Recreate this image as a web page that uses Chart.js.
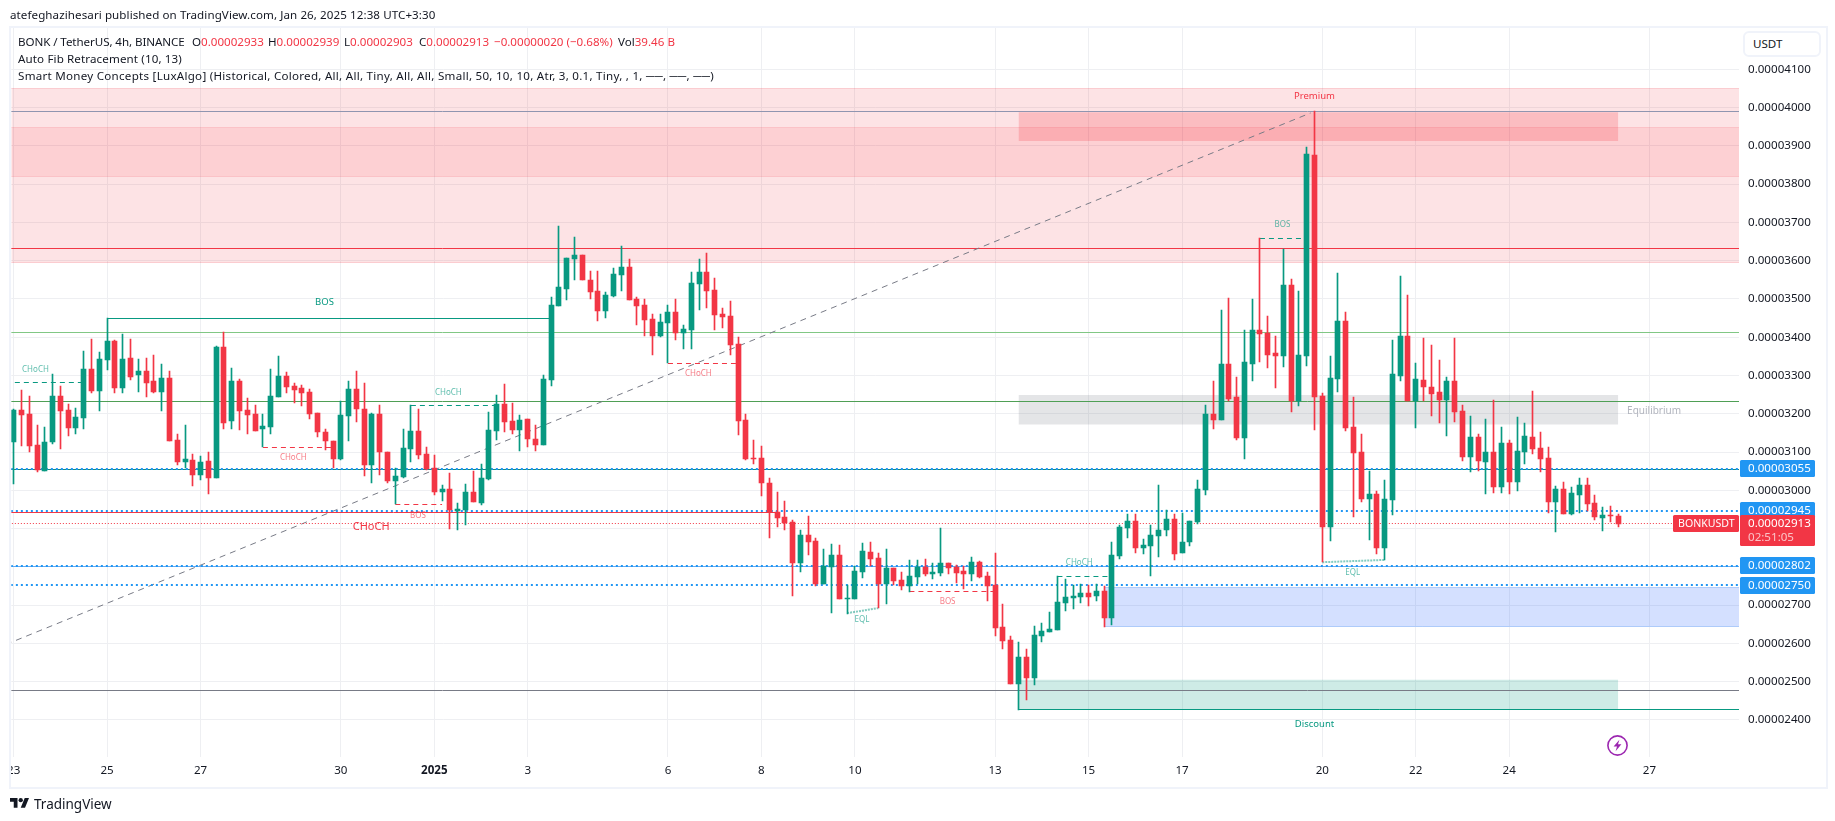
<!DOCTYPE html>
<html>
<head>
<meta charset="utf-8">
<title>BONKUSDT</title>
<script src="https://cdn.jsdelivr.net/npm/chart.js@4/dist/chart.umd.js"></script>
<style>
    html, body { margin: 0; padding: 0; background: #fff; }
    body { width: 1835px; height: 821px; overflow: hidden; position: relative; font-family: "Noto Sans", sans-serif; color: #131722; }
    canvas { position: absolute; left: 0; top: 0; }
    .t { position: absolute; white-space: nowrap; font-size: 11.6px; line-height: 16px; }
    .r { color: #f23645; }
    #mask { position: absolute; left: 0; top: 0; width: 9px; height: 821px; background: #fff; }
    #frame { position: absolute; left: 9px; top: 26px; width: 1815px; height: 759px; border: 2px solid #f0f3fa; }
    #usdt { position: absolute; left: 1743px; top: 31px; width: 74px; height: 22px; border: 2px solid #f0f3fa; border-radius: 6px; background: #fff; font-size: 11.6px; line-height: 22px; text-indent: 8px; }
</style>
</head>
<body>
<canvas id="chart" width="1835" height="821"></canvas>
<div id="mask"></div>
<div id="frame"></div>
<div id="usdt">USDT</div>

<div class="t" style="left:10px;top:7px;letter-spacing:.08px">atefeghazihesari published on TradingView.com, Jan 26, 2025 12:38 UTC+3:30</div>
<div class="t" style="left:18px;top:34px;letter-spacing:-.08px">BONK / TetherUS, 4h, BINANCE</div>
<div class="t" style="left:192px;top:34px">O<span class="r">0.00002933</span></div>
<div class="t" style="left:268px;top:34px">H<span class="r">0.00002939</span></div>
<div class="t" style="left:344px;top:34px">L<span class="r">0.00002903</span></div>
<div class="t" style="left:419px;top:34px">C<span class="r">0.00002913</span></div>
<div class="t r" style="left:494px;top:34px">−0.00000020 (−0.68%)</div>
<div class="t" style="left:618px;top:34px">Vol<span class="r">39.46 B</span></div>
<div class="t" style="left:18px;top:51px;letter-spacing:.12px">Auto Fib Retracement (10, 13)</div>
<div class="t" style="left:18px;top:68px;letter-spacing:.26px">Smart Money Concepts [LuxAlgo] (Historical, Colored, All, All, Tiny, All, All, Small, 50, 10, 10, Atr, 3, 0.1, Tiny, , 1, ──, ──, ──)</div>

<svg style="position:absolute;left:1606px;top:734px" width="23" height="23" viewBox="0 0 23 23">
    <circle cx="11.5" cy="11.5" r="9.6" fill="#fff" stroke="#9c27b0" stroke-width="1.6"/>
    <path d="M13.4 5.8 L7.6 12.6 H11 L9.6 17.2 L15.4 10.2 H12 Z" fill="#9c27b0"/>
</svg>

<svg style="position:absolute;left:10px;top:798px" width="19.3" height="9.7" viewBox="0 4 36 18">
    <path fill="#131722" d="M14 22H7V11H0V4h14v18zM28 22h-8l7.5-18h8L28 22z"/><circle fill="#131722" cx="20" cy="8" r="4"/>
</svg>
<div class="t" style="left:34px;top:796px;font-size:13.5px">TradingView</div>

<script>
// prices are in units of 0.00000001 USDT, x is the 4h candle number (0 = Dec 23)
const opens = [
    3127,3210,3200,3119,3051,3125,3247,3210,3164,3190,
    3317,3260,3341,3390,3268,3346,3300,3312,3286,3258,
    3294,3132,3075,3079,3041,3077,3031,3375,3180,3286,
    3210,3200,3159,3166,3245,3299,3273,3267,3257,3202,
    3153,3129,3083,3195,3265,3213,3067,3200,3100,3023,
    3035,3109,3155,3095,3058,2996,3004,2947,2949,2996,
    2967,3030,3155,3226,3181,3158,3186,3134,3119,3288,
    3482,3526,3604,3615,3550,3521,3469,3508,3563,3584,
    3500,3484,3448,3403,3437,3466,3411,3419,3539,3570,
    3523,3461,3456,3382,3184,3085,3085,3018,2943,2930,
    2917,2810,2883,2868,2755,2800,2831,2716,2716,2787,
    2839,2823,2755,2797,2766,2750,2774,2800,2782,2784,
    2810,2800,2789,2782,2813,2776,2753,2643,2609,2494,
    2565,2510,2620,2630,2635,2706,2719,2721,2732,2724,
    2737,2667,2829,2902,2920,2850,2855,2881,2896,2925,
    2836,2865,2917,3001,3200,3184,3330,3244,3137,3330,
    3419,3411,3359,3351,3536,3234,3351,3876,3247,2904,
    3291,3442,3166,3100,2977,2991,2849,2975,3299,3403,
    3233,3288,3270,3257,3236,3286,3207,3087,3139,3074,
    3100,3009,3124,3022,3100,3139,3111,3085,2970,3004,
    2938,2988,3014,2967,2928,2935,2933
];
const highs = [
    3213,3262,3247,3171,3166,3304,3273,3226,3215,3364,
    3395,3361,3449,3393,3409,3395,3343,3346,3354,3330,
    3312,3147,3171,3096,3090,3100,3377,3414,3320,3291,
    3241,3223,3200,3317,3351,3309,3280,3275,3265,3202,
    3159,3129,3233,3286,3312,3280,3202,3223,3100,3058,
    3160,3222,3213,3113,3092,3014,3045,2967,3017,3051,
    3069,3205,3249,3278,3228,3197,3186,3171,3301,3505,
    3691,3607,3662,3615,3573,3573,3518,3581,3638,3604,
    3505,3500,3461,3461,3484,3500,3432,3570,3604,3620,
    3555,3476,3495,3401,3200,3132,3116,3032,2995,2972,
    2923,2896,2933,2876,2847,2860,2857,2753,2802,2862,
    2865,2836,2847,2797,2787,2818,2818,2821,2810,2902,
    2810,2805,2802,2826,2815,2787,2836,2703,2620,2604,
    2586,2646,2654,2682,2776,2768,2753,2755,2753,2755,
    2750,2865,2910,2938,2938,2873,2910,3014,2949,2938,
    2941,2920,3027,3223,3286,3471,3503,3296,3419,3500,
    3658,3455,3403,3630,3552,3521,3897,3991,3254,3351,
    3568,3466,3244,3147,3051,2998,3027,3393,3560,3510,
    3333,3398,3380,3341,3296,3398,3223,3194,3147,3186,
    3236,3166,3132,3192,3176,3260,3153,3113,3011,3022,
    3009,3032,3032,2988,2957,2959,2939
];
const lows = [
    3017,3117,3101,3049,3051,3122,3109,3143,3146,3161,
    3253,3208,3313,3255,3255,3287,3258,3245,3255,3208,
    3130,3067,3057,3012,3028,2991,3031,3161,3159,3158,
    3148,3156,3114,3146,3245,3253,3227,3219,3187,3138,
    3104,3059,3079,3130,3179,3038,3018,3040,3020,2964,
    3032,3075,3083,3053,2988,2973,2900,2895,2910,2970,
    2962,3027,3132,3153,3147,3103,3114,3103,3119,3273,
    3482,3497,3550,3550,3500,3442,3450,3505,3521,3497,
    3432,3403,3354,3401,3332,3393,3369,3369,3471,3476,
    3419,3424,3354,3145,3079,3069,2984,2876,2903,2895,
    2724,2787,2831,2750,2755,2680,2716,2677,2716,2771,
    2802,2692,2703,2753,2740,2735,2755,2776,2768,2776,
    2782,2758,2742,2763,2771,2711,2620,2586,2494,2426,
    2452,2492,2604,2630,2635,2685,2690,2706,2698,2711,
    2643,2648,2821,2876,2836,2834,2776,2826,2881,2818,
    2836,2855,2912,2988,3160,3184,3233,3132,3082,3286,
    3335,3320,3267,3322,3205,3220,3325,3158,2812,2868,
    3257,3155,2930,2970,2870,2834,2818,2936,3286,3233,
    3163,3233,3194,3176,3142,3179,3077,3048,3051,2991,
    2993,2993,2991,2998,3069,3095,3048,2941,2891,2938,
    2936,2941,2946,2923,2894,2917,2903
];
const closes = [
    3210,3197,3117,3053,3126,3247,3207,3164,3192,3317,
    3260,3343,3390,3268,3343,3297,3312,3281,3258,3294,
    3130,3075,3082,3041,3074,3031,3375,3177,3286,3206,
    3198,3156,3168,3247,3299,3271,3262,3255,3200,3151,
    3130,3083,3197,3265,3213,3067,3200,3099,3024,3038,
    3111,3155,3093,3055,2996,3004,2949,2951,2996,2970,
    3032,3158,3226,3179,3158,3184,3135,3119,3291,3484,
    3531,3607,3615,3550,3518,3469,3510,3565,3584,3497,
    3482,3445,3403,3440,3466,3411,3422,3542,3570,3521,
    3458,3453,3380,3181,3082,3082,3018,2943,2928,2915,
    2810,2883,2865,2755,2802,2831,2716,2719,2789,2842,
    2821,2755,2797,2763,2750,2776,2800,2782,2787,2810,
    2797,2784,2782,2813,2774,2750,2640,2607,2494,2565,
    2510,2622,2633,2638,2708,2721,2724,2732,2721,2737,
    2667,2831,2904,2920,2850,2857,2883,2896,2925,2834,
    2865,2920,3004,3200,3184,3330,3239,3137,3335,3419,
    3408,3354,3351,3536,3234,3354,3879,3244,2904,3294,
    3442,3163,3098,2977,2991,2849,2977,3304,3403,3233,
    3291,3270,3252,3236,3286,3205,3087,3139,3077,3100,
    3009,3124,3022,3103,3142,3108,3082,2970,3004,2938,
    2993,3014,2964,2930,2936,2933,2913
];

const xTickValues = [0, 12, 24, 42, 54, 66, 84, 96, 108, 126, 138, 150, 168, 180, 192, 210];
const xTickLabels = ['23', '25', '27', '30', '2025', '3', '6', '8', '10', '13', '15', '17', '20', '22', '24', '27'];
const priceTicks = [2400, 2500, 2600, 2700, 2800, 2900, 3000, 3100, 3200, 3300, 3400, 3500, 3600, 3700, 3800, 3900, 4000, 4100];

const alertLevels = [3055, 2945, 2802, 2750];
const lastPrice = 2913;
const countdown = '02:51:05';
const symbol = 'BONKUSDT';

// [from candle, to candle, top, bottom]
const premiumBand = [-1, 222, 4050, 3595];
const premiumInner = [-1, 222, 3948, 3820];
const premiumBox = [129, 206, 3988, 3913];
const equilibriumBox = [129, 206, 3249, 3172];
const discountBox = [129, 206, 2505, 2426];
const demandBox = [140, 222, 2747, 2644];

// [from candle, to candle, price]
const fibLevels = [3990, 3632, 3413, 3233, 3053, 2478];
const bosSolid = [12, 69, 3449];
const trailingLow = [129, 222, 2426];
const supportRed = [-1, 98, 2943];
const dashedGreen = [[-1, 9, 3282], [51, 62, 3222], [160, 166, 3658], [134, 141, 2775]];
const dashedRed = [[32, 41, 3112], [49, 55, 2964], [84, 93, 3332], [115, 126, 2736]];
const eqlLines = [[107, 2679, 111, 2692], [168, 2812, 176, 2818]];
const fibTrend = [[-1, 2597], [166.5, 3986]];

// [candle, price, text]
const smallGreenNotes = [[2.8, 3314, 'CHoCH'], [55.8, 3254, 'CHoCH'], [136.8, 2811, 'CHoCH'], [108.9, 2661, 'EQL'], [171.9, 2785, 'EQL'], [162.9, 3693, 'BOS']];
const smallRedNotes = [[35.9, 3085, 'CHoCH'], [51.9, 2933, 'BOS'], [87.9, 3304, 'CHoCH'], [119.9, 2708, 'BOS']];
const bigNotes = [[39.9, 3490, 'BOS', '#089981'], [45.9, 2904, 'CHoCH', '#f23645'], [167, 4030, 'Premium', '#f23645'], [167, 2388, 'Discount', '#089981'], [210.6, 3208, 'Equilibrium', '#b2b5be']];

const UP = '#089981';
const DOWN = '#f23645';
const GRID = '#eeeff2';
const FONT = '"Noto Sans", sans-serif';
const candleColors = closes.map((c, i) => c < opens[i] ? DOWN : UP);

function hline(x0, x1, price, color, width, dash, order) {
    return {
        type: 'line', data: [{ x: x0, y: price }, { x: x1, y: price }],
        borderColor: color, borderWidth: width, borderDash: dash || [],
        pointRadius: 0, fill: false, order: order, snapY: true
    };
}

function zone(box, color, order) {
    return {
        type: 'line', data: [{ x: box[0], y: box[2] }, { x: box[1], y: box[2] }],
        borderWidth: 0, borderColor: 'transparent', backgroundColor: color,
        pointRadius: 0, fill: { value: box[3] }, order: order
    };
}

function zoneEdges(box, color, order) {
    return [hline(box[0], box[1], box[2], color, 1, [], order), hline(box[0], box[1], box[3], color, 1, [], order)];
}

const datasets = [
    // candles, wick below body
    {
        type: 'bar', grouped: false, order: 1, barThickness: 5, minBarLength: 1,
        data: opens.map((o, i) => ({ x: i, y: [o, closes[i]] })),
        backgroundColor: candleColors
    },
    {
        type: 'bar', grouped: false, order: 2, barThickness: 1,
        data: lows.map((l, i) => ({ x: i, y: [l, highs[i]] })),
        backgroundColor: candleColors
    },

    // zones
    zone(premiumBand, 'rgba(242,54,69,.14)', 30),
    zone(premiumInner, 'rgba(242,54,69,.115)', 29),
    zone(premiumBox, 'rgba(242,54,69,.225)', 28),
    zone(equilibriumBox, 'rgba(120,123,134,.2)', 28),
    zone(discountBox, 'rgba(8,153,129,.2)', 28),
    zone(demandBox, 'rgba(41,98,255,.2)', 28),
    ...zoneEdges(premiumBand, 'rgba(242,54,69,.2)', 27),
    ...zoneEdges(premiumInner, 'rgba(242,54,69,.14)', 27),
    ...zoneEdges(demandBox, '#aecbfa', 27),

    // fib levels
    hline(-1, 222, fibLevels[0], '#8f95b0', 1, [], 20),
    hline(-1, 222, fibLevels[1], '#f23645', 1, [], 20),
    hline(-1, 222, fibLevels[2], '#81c784', 1, [], 20),
    hline(-1, 222, fibLevels[3], '#4f9f55', 1, [], 20),
    hline(-1, 222, fibLevels[4], '#0e8a82', 1, [], 20),
    hline(-1, 222, fibLevels[5], '#787b86', 1, [], 20),
    hline(-1, 222, 2800, '#64a9f2', 1, [], 20),
    {
        type: 'line', data: fibTrend.map(p => ({ x: p[0], y: p[1] })),
        borderColor: '#787b86', borderWidth: 1, borderDash: [6, 5], pointRadius: 0, fill: false, order: 19
    },

    // structure
    hline(bosSolid[0], bosSolid[1], bosSolid[2], UP, 1, [], 18),
    hline(trailingLow[0], trailingLow[1], trailingLow[2], UP, 1, [], 18),
    hline(supportRed[0], supportRed[1], supportRed[2], DOWN, 1, [], 18),
    ...dashedGreen.map(d => hline(d[0], d[1], d[2], UP, 1, [5, 4], 18)),
    ...dashedRed.map(d => hline(d[0], d[1], d[2], DOWN, 1, [5, 4], 18)),
    ...eqlLines.map(d => ({
        type: 'line', data: [{ x: d[0], y: d[1] }, { x: d[2], y: d[3] }],
        borderColor: 'rgba(8,153,129,.5)', borderWidth: 2, borderDash: [2, 1], pointRadius: 0, fill: false, order: 18
    })),

    // alerts and last price
    ...alertLevels.map(p => hline(-1, 222, p, '#2196f3', 2, [2, 3], 15)),
    hline(-1, 222, lastPrice, DOWN, 1, [1, 2], 15)
];

// snap bars and flat lines to whole pixels, the original is crisp
const snapPlugin = {
    id: 'snap',
    afterDatasetsUpdate(chart) {
        chart.getSortedVisibleDatasetMetas().forEach(meta => {
            const ds = chart.data.datasets[meta.index];
            if (meta.type === 'bar') {
                meta.data.forEach(el => {
                    el.x = Math.floor(el.x) + 0.5;
                    el.y = Math.round(el.y);
                    el.base = Math.round(el.base);
                    if (el.y === el.base) el.base = el.y + 1;
                });
            } else if (ds.snapY) {
                const half = ds.borderWidth % 2 ? 0.5 : 0;
                meta.data.forEach(el => { el.y = Math.floor(el.y) + half; });
            }
        });
    }
};

function note(ctx, chart, n, color, font) {
    ctx.fillStyle = color;
    ctx.font = font;
    ctx.textAlign = 'center';
    ctx.textBaseline = 'middle';
    ctx.fillText(n[2], chart.scales.x.getPixelForValue(n[0]), chart.scales.y.getPixelForValue(n[1]));
}

const notesPlugin = {
    id: 'notes',
    afterDatasetsDraw(chart) {
        const ctx = chart.ctx;
        ctx.save();
        smallGreenNotes.forEach(n => note(ctx, chart, n, 'rgba(8,153,129,.65)', '8px ' + FONT));
        smallRedNotes.forEach(n => note(ctx, chart, n, 'rgba(242,54,69,.65)', '8px ' + FONT));
        bigNotes.forEach(n => note(ctx, chart, n, n[3], (n[2] === 'Equilibrium' ? '10px ' : n[2] === 'CHoCH' ? '11px ' : '9.5px ') + FONT));
        ctx.restore();
    }
};

function badge(ctx, left, top, w, h, color) {
    ctx.fillStyle = color;
    ctx.beginPath();
    ctx.roundRect(left, top, w, h, 1.5);
    ctx.fill();
}

const badgesPlugin = {
    id: 'badges',
    afterDraw(chart) {
        const ctx = chart.ctx, y = chart.scales.y;
        ctx.save();
        ctx.font = '11.6px ' + FONT;
        ctx.textBaseline = 'middle';
        ctx.textAlign = 'left';
        alertLevels.forEach(p => {
            const py = Math.round(y.getPixelForValue(p));
            badge(ctx, 1740, py - 9, 75, 17, '#2196f3');
            ctx.fillStyle = '#fff';
            ctx.fillText((p / 1e8).toFixed(8), 1748, py);
        });
        const py = Math.round(y.getPixelForValue(lastPrice));
        badge(ctx, 1740, py - 9, 75, 31, DOWN);
        badge(ctx, 1673, py - 9, 66, 17, DOWN);
        ctx.fillStyle = '#fff';
        ctx.fillText((lastPrice / 1e8).toFixed(8), 1748, py);
        ctx.font = '10.6px ' + FONT;
        ctx.fillText(symbol, 1678, py);
        ctx.font = '11.6px ' + FONT;
        ctx.fillStyle = 'rgba(255,255,255,.7)';
        ctx.fillText(countdown, 1748, py + 14);
        ctx.restore();
    }
};

new Chart(document.getElementById('chart'), {
    type: 'bar',
    data: { datasets: datasets },
    plugins: [snapPlugin, notesPlugin, badgesPlugin],
    options: {
        responsive: false,
        animation: false,
        events: [],
        layout: { padding: { left: 11, top: 28, right: 9, bottom: 35 } },
        plugins: { legend: { display: false }, tooltip: { enabled: false } },
        scales: {
            x: {
                type: 'linear',
                offset: false,
                min: -0.295,
                max: 221.5,
                afterBuildTicks: scale => { scale.ticks = xTickValues.map(v => ({ value: v })); },
                afterFit: scale => { scale.height = 29; },
                grid: { color: GRID, offset: false, drawTicks: false },
                border: { display: false },
                ticks: {
                    autoSkip: false,
                    maxRotation: 0,
                    padding: 7,
                    color: '#131722',
                    font: ctx => ({ family: FONT, size: 11.6, weight: ctx.tick && ctx.tick.value === 54 ? 'bold' : 'normal' }),
                    callback: (v, i) => xTickLabels[i]
                }
            },
            y: {
                type: 'linear',
                position: 'right',
                min: 2303,
                max: 4208,
                afterBuildTicks: scale => { scale.ticks = priceTicks.map(v => ({ value: v })); },
                afterFit: scale => { scale.width = 87; },
                grid: { color: GRID, drawTicks: false },
                border: { display: false },
                ticks: {
                    padding: 9,
                    crossAlign: 'near',
                    color: '#131722',
                    font: { family: FONT, size: 11.6 },
                    callback: v => (v / 1e8).toFixed(8)
                }
            }
        }
    }
});
</script>
</body>
</html>
